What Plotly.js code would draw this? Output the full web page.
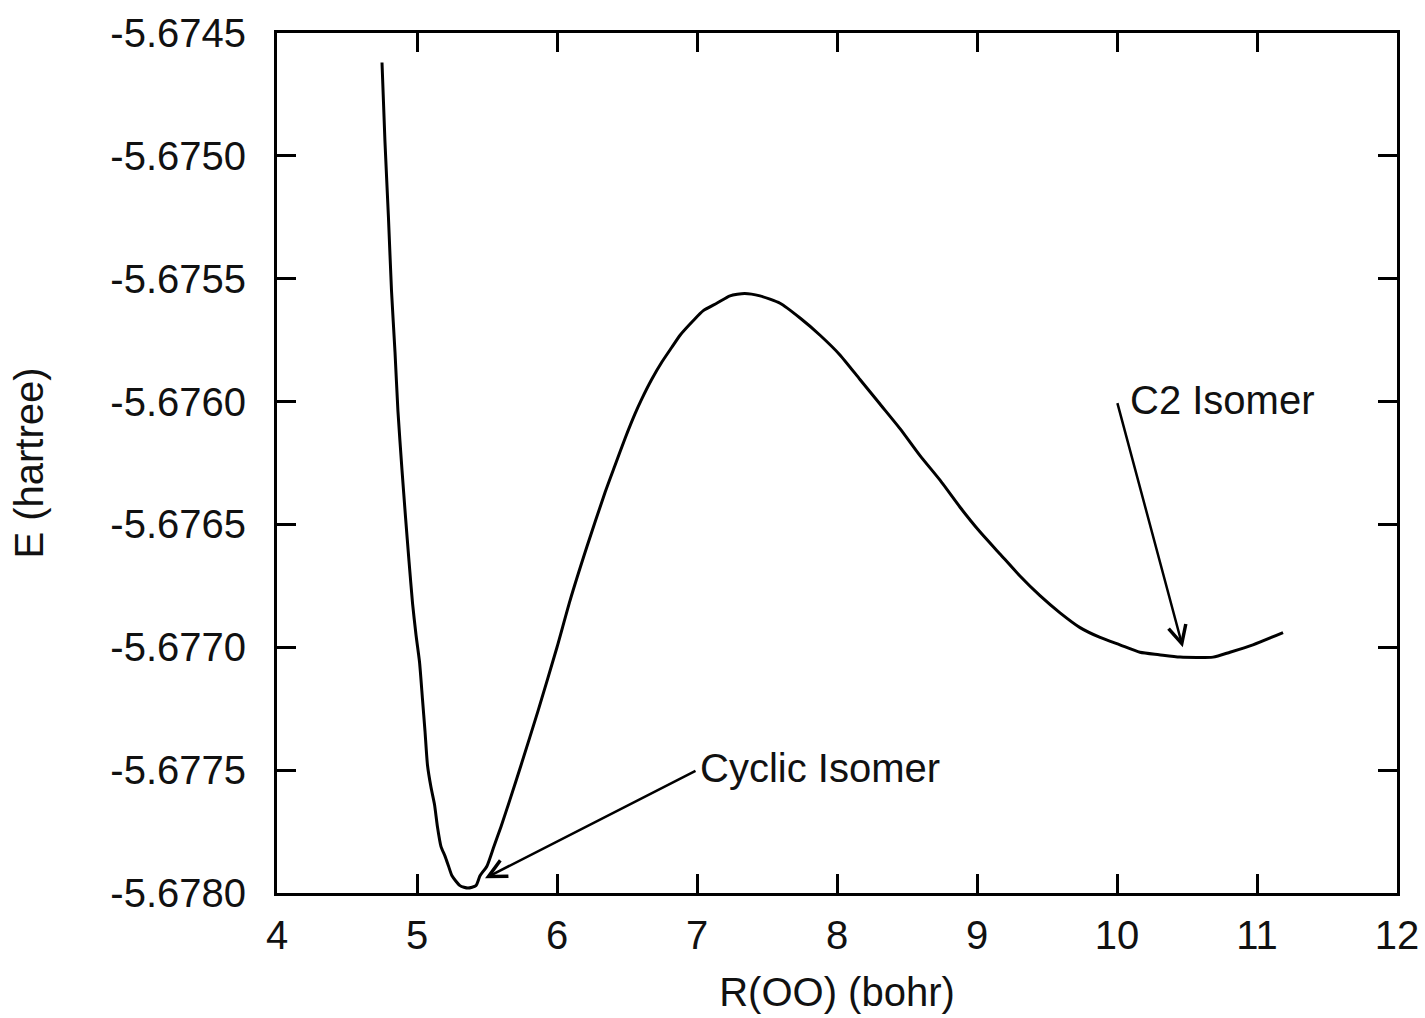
<!DOCTYPE html>
<html>
<head>
<meta charset="utf-8">
<script src="https://cdn.plot.ly/plotly-3.0.1.min.js"></script>
<style>
  html, body { margin: 0; padding: 0; background: #fff; }
  #chart { width: 1425px; height: 1018px; }
</style>
</head>
<body>
<div id="chart"></div>
<script>
// R(OO) in bohr
const rOO = [4.75, 4.771, 4.796, 4.818, 4.843, 4.864, 4.893, 4.918, 4.943, 4.968,
  4.993, 5.018, 5.039, 5.057, 5.075, 5.10, 5.125, 5.146, 5.171, 5.20,
  5.225, 5.25, 5.307, 5.364, 5.421, 5.45, 5.50, 5.55, 5.60, 5.664,
  5.743, 5.864, 6.0, 6.093, 6.214, 6.343, 6.414, 6.486, 6.557, 6.605,
  6.676, 6.748, 6.819, 6.879, 6.974, 7.045, 7.141, 7.236, 7.34, 7.45,
  7.593, 7.736, 7.879, 8.021, 8.164, 8.307, 8.45, 8.593, 8.736, 8.879,
  9.021, 9.164, 9.307, 9.45, 9.593, 9.736, 9.879, 10.021, 10.164, 10.30,
  10.45, 10.686, 10.807, 10.971, 11.186];
// E in hartree
const energy = [-5.67462, -5.67494, -5.67525, -5.67555, -5.67580, -5.67604, -5.67628, -5.67647, -5.67665, -5.67682,
  -5.67695, -5.67706, -5.67721, -5.67734, -5.67748, -5.67757, -5.67764, -5.67773, -5.67781, -5.67785,
  -5.67789, -5.67793, -5.67797, -5.67798, -5.67797, -5.67793, -5.67789, -5.67781, -5.67773, -5.67762,
  -5.67748, -5.67726, -5.67700, -5.67681, -5.67659, -5.67637, -5.67626, -5.67615, -5.67605, -5.67599,
  -5.67591, -5.67584, -5.67578, -5.67573, -5.67567, -5.67563, -5.67560, -5.67557, -5.67556, -5.67557,
  -5.67560, -5.67566, -5.67573, -5.67581, -5.67591, -5.67601, -5.67611, -5.67622, -5.67632, -5.67643,
  -5.67653, -5.67662, -5.67671, -5.67679, -5.67686, -5.67692, -5.67696, -5.67699, -5.67702, -5.67703,
  -5.67704, -5.67704, -5.67702, -5.67699, -5.67694];

const xTickVals = [4, 5, 6, 7, 8, 9, 10, 11, 12];
const yTickVals = [-5.6780, -5.6775, -5.6770, -5.6765, -5.6760, -5.6755, -5.6750, -5.6745];
const yTickText = ["-5.6780", "-5.6775", "-5.6770", "-5.6765", "-5.6760", "-5.6755", "-5.6750", "-5.6745"];

// annotation labels: text, arrow tail (label anchor) and arrow head
const labelNames = ["Cyclic Isomer", "C2 Isomer"];
const labelTailX = [7.0, 10.0];
const labelTailY = [-5.6775, -5.6760];
const arrowHeadX = [5.486, 10.47];
const arrowHeadY = [-5.67794, -5.67700];

const font = "'Liberation Sans', Arial, sans-serif";

const annotations = [];
for (let i = 0; i < labelNames.length; i++) {
  annotations.push({
    x: arrowHeadX[i], y: arrowHeadY[i], xref: 'x', yref: 'y',
    ax: labelTailX[i], ay: labelTailY[i], axref: 'x', ayref: 'y',
    text: '', showarrow: true, arrowhead: 5, arrowsize: 1.4, arrowwidth: 2.5,
    arrowcolor: '#000'
  });
  annotations.push({
    x: labelTailX[i], y: labelTailY[i], xref: 'x', yref: 'y',
    text: labelNames[i], showarrow: false, xanchor: 'left', yanchor: 'middle',
    xshift: i === 0 ? 1 : 11, yshift: 2,
    font: { family: font, size: 40, color: '#111' }
  });
}

const trace = {
  x: rOO, y: energy, type: 'scatter', mode: 'lines',
  line: { color: '#000', width: 3, shape: 'spline', smoothing: 0.6 }, hoverinfo: 'skip'
};

const layout = {
  width: 1425, height: 1018,
  margin: { l: 277, r: 28, t: 33, b: 125 },
  paper_bgcolor: '#fff', plot_bgcolor: '#fff',
  showlegend: false,
  font: { family: font, size: 40, color: '#111' },
  xaxis: {
    range: [4, 12], tickvals: xTickVals, ticktext: xTickVals.map(String),
    ticks: 'inside', ticklen: 19, tickwidth: 3, tickcolor: '#000',
    showline: true, linewidth: 3, linecolor: '#000', mirror: 'ticks',
    showgrid: false, zeroline: false, ticklabelstandoff: 5,
    tickfont: { family: font, size: 40, color: '#111' },
    title: { text: 'R(OO) (bohr)', standoff: 22, font: { family: font, size: 40, color: '#111' } }
  },
  yaxis: {
    range: [-5.6780, -5.6745], tickvals: yTickVals, ticktext: yTickText,
    ticks: 'inside', ticklen: 19, tickwidth: 3, tickcolor: '#000',
    showline: true, linewidth: 3, linecolor: '#000', mirror: 'ticks',
    showgrid: false, zeroline: false, ticklabelstandoff: 20,
    tickfont: { family: font, size: 40, color: '#111' },
    title: { text: 'E (hartree)', standoff: 55, font: { family: font, size: 40, color: '#111' } }
  },
  annotations: annotations
};

Plotly.newPlot('chart', [trace], layout, { staticPlot: true, displayModeBar: false });
</script>
</body>
</html>
